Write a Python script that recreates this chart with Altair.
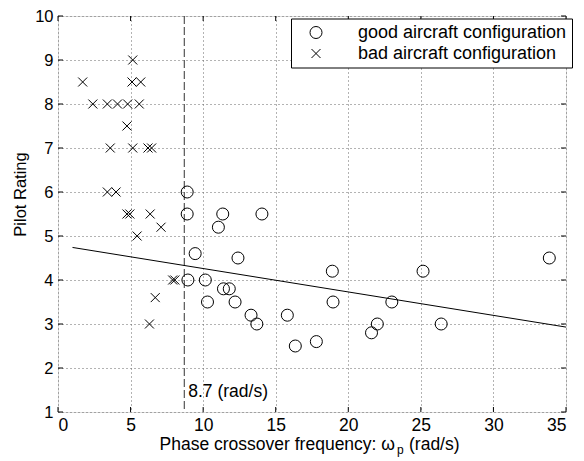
import altair as alt
import pandas as pd

# ---------------- data ----------------
good_x = [8.9, 8.9, 11.35, 11.05, 14.05, 9.45, 12.4, 8.95, 10.15, 18.9, 11.4, 11.8, 10.3,
          12.2, 18.95, 13.3, 13.7, 15.8, 16.35, 17.8, 21.6, 22.0, 23.0, 25.15, 26.4, 33.85]
good_y = [6.0, 5.5, 5.5, 5.2, 5.5, 4.6, 4.5, 4.0, 4.0, 4.2, 3.8, 3.8, 3.5,
          3.5, 3.5, 3.2, 3.0, 3.2, 2.5, 2.6, 2.8, 3.0, 3.5, 4.2, 3.0, 4.5]
bad_x = [1.7, 2.4, 3.4, 4.1, 4.8, 5.6, 5.15, 5.1, 5.7, 4.75, 3.6, 5.15, 6.2, 6.45,
         3.4, 4.0, 4.75, 4.95, 6.35, 5.45, 7.1, 7.9, 8.05, 6.7, 6.3]
bad_y = [8.5, 8.0, 8.0, 8.0, 8.0, 8.0, 9.0, 8.5, 8.5, 7.5, 7.0, 7.0, 7.0, 7.0,
         6.0, 6.0, 5.5, 5.5, 5.5, 5.0, 5.2, 4.0, 4.0, 3.6, 3.0]
trend_x = [1.0, 35.0]
trend_y = [4.74, 2.93]
threshold_x = [8.7]
threshold_text = ["8.7 (rad/s)"]
threshold_label_y = [1.34]
x_ticks = [0, 5, 10, 15, 20, 25, 30, 35]
y_ticks = [1, 2, 3, 4, 5, 6, 7, 8, 9, 10]
series_labels = ["good aircraft configuration", "bad aircraft configuration"]
x_title_parts = ["Phase crossover frequency: ω", "p", "(rad/s)"]
y_title = "Pilot Rating"

# ---------------- layout ----------------
W, H = 508, 396
TOP = 8
FONT = "Liberation Sans"
FS = 17.5
X_PATH = "M-1,-1L1,1M1,-1L-1,1"

pts = pd.DataFrame({
    "x": good_x + bad_x,
    "y": good_y + bad_y,
    "cfg": [series_labels[0]] * len(good_x) + [series_labels[1]] * len(bad_x),
})
trend = pd.DataFrame({"x": trend_x, "y": trend_y})
thr = pd.DataFrame({"x": threshold_x, "y": threshold_label_y, "t": threshold_text})
xt = pd.DataFrame({"x": x_ticks})
yt = pd.DataFrame({"y": y_ticks})

xs = alt.Scale(domain=[0, 35], nice=False, zero=False)
ys = alt.Scale(domain=[1, 10], nice=False, zero=False)

common_axis = dict(grid=True, ticks=False, domain=False, labelFont=FONT,
                   labelColor="black", gridColor="#666666", gridDash=[1, 3], gridWidth=1,
                   gridOpacity=1)
x_axis = alt.Axis(values=x_ticks, title=None, labelPadding=4, labelFontSize=FS, **common_axis)
y_axis = alt.Axis(values=y_ticks, title=y_title, labelPadding=5, labelFontSize=16.5,
                  titleFont=FONT, titleFontSize=16.5, titleFontWeight="normal",
                  titleColor="black", titlePadding=6, titleY=178, **common_axis)

legend_kw = dict(
    title=None, orient="none", legendX=233, legendY=2.5,
    strokeColor="black", fillColor="white", padding=5,
    labelFont=FONT, labelFontSize=18, labelColor="black", labelLimit=0,
    symbolOffset=11, labelOffset=33, rowPadding=3,
    symbolStrokeColor="black", symbolFillColor="transparent", symbolStrokeWidth=1,
)

X = lambda f="x:Q": alt.X(f, scale=xs, axis=x_axis)
Y = lambda f="y:Q": alt.Y(f, scale=ys, axis=y_axis)

points = alt.Chart(pts).mark_point(filled=False, color="black", strokeWidth=1, opacity=1).encode(
    x=X(), y=Y(),
    shape=alt.Shape("cfg:N", scale=alt.Scale(domain=series_labels, range=["circle", X_PATH]),
                    legend=alt.Legend(**legend_kw)),
    size=alt.Size("cfg:N", scale=alt.Scale(domain=series_labels, range=[144, 81]),
                  legend=alt.Legend(**legend_kw)),
)

trend_line = alt.Chart(trend).mark_line(color="black", strokeWidth=1).encode(x=X(), y=Y())

thr_rule = alt.Chart(thr).mark_rule(color="#333333", strokeWidth=1, strokeDash=[8, 3]).encode(x=X())

thr_text = alt.Chart(thr).mark_text(align="left", baseline="alphabetic", dx=4, font=FONT,
                                    fontSize=FS, color="black").encode(x=X(), y=Y(), text="t:N")

tick_b = alt.Chart(xt).mark_rule(color="black", strokeWidth=1).encode(
    x=X(), y=alt.value(H), y2=alt.value(H - 5))
tick_t = alt.Chart(xt).mark_rule(color="black", strokeWidth=1).encode(
    x=X(), y=alt.value(0), y2=alt.value(5))
tick_l = alt.Chart(yt).mark_rule(color="black", strokeWidth=1).encode(
    y=Y(), x=alt.value(0), x2=alt.value(5))
tick_r = alt.Chart(yt).mark_rule(color="black", strokeWidth=1).encode(
    y=Y(), x=alt.value(W - 5), x2=alt.value(W))

title_df = pd.DataFrame({"t": x_title_parts})
t1 = alt.Chart(title_df).transform_filter(alt.datum.t == x_title_parts[0]).mark_text(
    align="right", baseline="alphabetic", font=FONT, fontSize=FS, color="black").encode(
    x=alt.value(337), y=alt.value(434), text="t:N")
t2 = alt.Chart(title_df).transform_filter(alt.datum.t == x_title_parts[1]).mark_text(
    align="left", baseline="alphabetic", font=FONT, fontSize=12, color="black").encode(
    x=alt.value(339), y=alt.value(438), text="t:N")
t3 = alt.Chart(title_df).transform_filter(alt.datum.t == x_title_parts[2]).mark_text(
    align="left", baseline="alphabetic", font=FONT, fontSize=FS, color="black").encode(
    x=alt.value(351), y=alt.value(434), text="t:N")

chart = alt.layer(
    thr_rule, trend_line, points, thr_text, tick_b, tick_t, tick_l, tick_r, t1, t2, t3
).properties(
    width=W, height=H,
    autosize=alt.AutoSizeParams(type="none"),
    padding={"left": 50, "top": TOP, "right": 10, "bottom": 46},
).configure_view(
    stroke="black", strokeWidth=1
).configure(background="white")

chart.save("out.html", embed_options={"renderer": "svg", "actions": False})
